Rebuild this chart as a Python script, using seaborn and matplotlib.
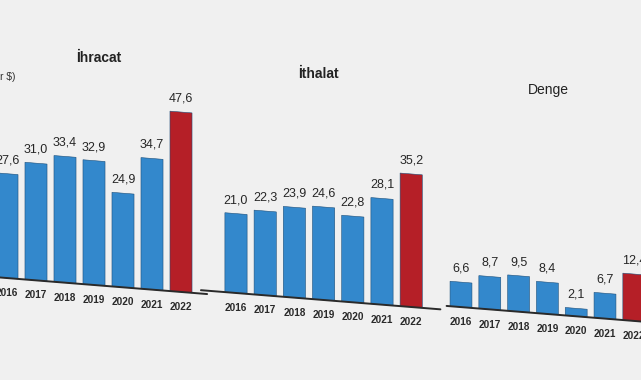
import math
import matplotlib
matplotlib.use("Agg")
import matplotlib.pyplot as plt
from matplotlib.transforms import Affine2D
import seaborn as sns
import pandas as pd

years = ["2016", "2017", "2018", "2019", "2020", "2021", "2022"]
ihracat = [27.6, 31.0, 33.4, 32.9, 24.9, 34.7, 47.6]
ithalat = [21.0, 22.3, 23.9, 24.6, 22.8, 28.1, 35.2]
denge = [6.6, 8.7, 9.5, 8.4, 2.1, 6.7, 12.4]
titles = ["İhracat", "İthalat", "Denge"]
unit_label = "(Milyar $)"

BLUE = "#3388cc"
RED = "#b51f27"
BG = "#f0f0f0"
palette = {y: (RED if y == "2022" else BLUE) for y in years}

sns.set_theme(style="white")
plt.rcParams["font.family"] = ["Liberation Sans Narrow", "Liberation Sans", "DejaVu Sans"]

W, H = 641, 380
fig = plt.figure(figsize=(W / 100, H / 100), dpi=100)
fig.patch.set_facecolor(BG)

SCALE = 3.78   # px per unit
YMAX = 60
SLOPE = -0.08  # perspective tilt

# (values, first bar centre px, spacing px, baseline px from top at panel middle, xlim, title xy, weight)
panels = [
    (ihracat, 7, 29.0, 285, (-0.6, 6.9), (99, 58), "bold"),
    (ithalat, 236, 29.2, 300, (-1.2, 7.0), (318, 74), "bold"),
    (denge, 461, 28.8, 314, (-0.5, 6.9), (548, 90), "normal"),
]

for (vals, c0, sp, yb, (xa, xb), (tx, ty), tw), title in zip(panels, titles):
    left = c0 + xa * sp
    width = (xb - xa) * sp
    bottom = H - yb
    ax = fig.add_axes([left / W, bottom / H, width / W, (YMAX * SCALE) / H])
    ax.set_facecolor("none")
    df = pd.DataFrame({"year": years, "val": vals})
    sns.barplot(data=df, x="year", y="val", hue="year", palette=palette,
                saturation=1, legend=False, width=0.76, ax=ax,
                edgecolor="#1d4f7a", linewidth=0.4)
    ax.set_xlim(xa, xb)
    ax.set_ylim(0, YMAX)
    ax.axis("off")
    base, = ax.plot([xa, xb], [0, 0], color="#2a2a2a", lw=1.4, clip_on=False)
    texts = []
    for i, (y, v) in enumerate(zip(years, vals)):
        texts.append(ax.text(i, v + 2.0, f"{v:.1f}".replace(".", ","), ha="center",
                             va="bottom", fontsize=9, color="#262626"))
        texts.append(ax.text(i, -4.0, y, ha="center", va="center",
                             fontsize=7.2, fontweight="bold", color="#2a2a2a"))
    # perspective skew around panel centre
    px = c0 + 3 * sp
    py = H - yb
    skew = (Affine2D().translate(-px, -py)
            .skew(0, math.atan(SLOPE)).translate(px, py))
    for art in list(ax.patches) + [base] + texts:
        art.set_transform(ax.transData + skew)
        art.set_clip_on(False)
    fig.text(tx / W, 1 - ty / H, title, ha="center", va="center",
             fontsize=10, fontweight=tw, color="#222222",
             family=["Liberation Sans", "DejaVu Sans"])

fig.text(15 / W, 1 - 77 / H, unit_label, ha="right", va="center",
         fontsize=7.5, color="#333333")

fig.savefig("out.png", dpi=100, facecolor=BG)
